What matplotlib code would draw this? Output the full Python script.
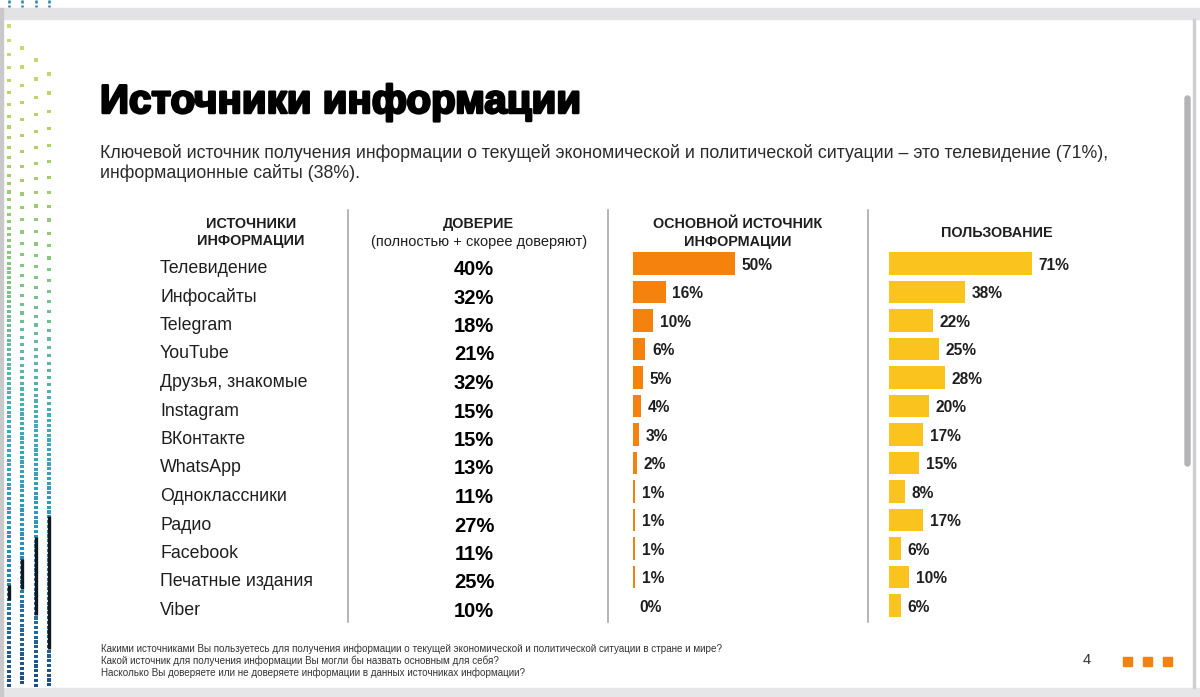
import matplotlib
matplotlib.use("Agg")
import matplotlib.pyplot as plt
import matplotlib.patheffects as pe
import numpy as np
from matplotlib.patches import Rectangle, FancyBboxPatch
from matplotlib.colors import LinearSegmentedColormap

# ---------------- data ----------------
sources = ["Телевидение", "Инфосайты", "Telegram", "YouTube", "Друзья, знакомые",
           "Instagram", "ВКонтакте", "WhatsApp", "Одноклассники", "Радио",
           "Facebook", "Печатные издания", "Viber"]
trust = [40, 32, 18, 21, 32, 15, 15, 13, 11, 27, 11, 25, 10]
main_source = [50, 16, 10, 6, 5, 4, 3, 2, 1, 1, 1, 1, 0]
usage = [71, 38, 22, 25, 28, 20, 17, 15, 8, 17, 6, 10, 6]

title = "Источники информации"
subtitle = ["Ключевой источник получения информации о текущей экономической и политической ситуации – это телевидение (71%),",
            "информационные сайты (38%)."]
footnotes = ["Какими источниками Вы пользуетесь для получения информации о текущей экономической и политической ситуации в стране и мире?",
             "Какой источник для получения информации Вы могли бы назвать основным для себя?",
             "Насколько Вы доверяете или не доверяете информации в данных источниках информации?"]
page_number = "4"

# ---------------- style ----------------
W, H = 1200, 697
FONT = "Liberation Sans"
ORANGE = "#F6820E"
YELLOW = "#FBC31E"
TXT = "#1e1e1e"

plt.rcParams["font.family"] = [FONT, "DejaVu Sans"]

fig = plt.figure(figsize=(W / 100, H / 100), dpi=100)
fig.patch.set_facecolor("white")
bg = fig.add_axes([0, 0, 1, 1])
bg.set_xlim(0, W)
bg.set_ylim(H, 0)
bg.axis("off")


def px_rect(left, top, w, h):
    return [left / W, (H - top - h) / H, w / W, h / H]


# ---------------- frame (screenshot viewer) ----------------
bg.add_patch(Rectangle((0, 8), W, 11, color="#e3e3e6", zorder=1))
bg.add_patch(Rectangle((0, 688), W, 9, color="#e6e6e9", zorder=1))
bg.add_patch(Rectangle((0, 8), 2.5, H, color="#c9c9cc", zorder=1))
bg.add_patch(Rectangle((1193, 19), 2, 669, color="#cfcfd2", zorder=1))
bg.add_patch(FancyBboxPatch((1185, 96), 5, 370, boxstyle="round,pad=0,rounding_size=2.5",
                            color="#b3b3b6", zorder=1))

# decorative dotted columns on the left
cmap = LinearSegmentedColormap.from_list("deco", ["#cfdc6e", "#acd066", "#7fc486", "#43adb8", "#2a8fc0", "#1d4f86"])
col_x = [9, 22, 36, 49]
col_start = [26, 48, 60, 74]
col_gap0 = [14.5, 19, 19, 19]
black_seg = [(585, 600), (559, 589), (537, 615), (516, 649)]
for cx, y0, g0, (b0, b1) in zip(col_x, col_start, col_gap0, black_seg):
    ys = []
    y, g = y0, g0
    while y < 686:
        ys.append(y)
        y += g
        g = max(4.8, g * 0.96)
    ys = np.array(ys)
    cols = cmap(np.clip((ys - 20) / 660, 0, 1))
    bg.scatter(np.full(len(ys), cx), ys, s=5.0, c=cols, marker="s", linewidths=0, zorder=2)
    bg.plot([cx, cx], [b0, b1], color="#111820", lw=2.4, zorder=3, solid_capstyle="butt")
for cx in col_x:
    bg.plot([cx, cx], [0, 7], color="#2a7fb0", lw=1.8, ls=(0, (1.2, 0.8)), zorder=2)

# ---------------- title & subtitle ----------------
bg.text(100, 102, title, fontsize=29, fontweight="bold", color="black", va="center", ha="left",
        path_effects=[pe.withStroke(linewidth=1.8, foreground="black")])
for i, line in enumerate(subtitle):
    bg.text(100, 153 + i * 20, line, fontsize=12.8, color="#2a2a2a", va="center", ha="left")

# ---------------- column headers ----------------
HDR = dict(fontsize=10.4, fontweight="bold", color=TXT, ha="center", va="center")
bg.text(251, 224, "ИСТОЧНИКИ", **HDR)
bg.text(251, 241, "ИНФОРМАЦИИ", **HDR)
bg.text(478, 224, "ДОВЕРИЕ", **HDR)
bg.text(479, 242, "(полностью + скорее доверяют)", fontsize=10.5, color=TXT, ha="center", va="center")
bg.text(738, 224, "ОСНОВНОЙ ИСТОЧНИК", **HDR)
bg.text(738, 242, "ИНФОРМАЦИИ", **HDR)
bg.text(997, 233, "ПОЛЬЗОВАНИЕ", **HDR)

# separators
for sx in [348, 608, 868]:
    bg.plot([sx, sx], [210, 622], color="#a0a0a3", lw=1.1, zorder=2)

# ---------------- rows: labels and trust ----------------
ROW_STEP = 28.5
TEXT0 = 268.5
for i, (name, t) in enumerate(zip(sources, trust)):
    y = TEXT0 + i * ROW_STEP
    bg.text(160, y, name, fontsize=12.8, color=TXT, ha="left", va="center")
    bg.text(474, y + 1, f"{t}%", fontsize=14.5, fontweight="bold", color="black", ha="center", va="center")

# ---------------- bar columns ----------------
BAR0 = 263.5
top = BAR0 - ROW_STEP / 2
height = len(sources) * ROW_STEP


def bar_column(left, width_px, values, color):
    ax = fig.add_axes(px_rect(left, top, width_px, height))
    ax.set_xlim(0, 100)
    ax.set_ylim(len(values) - 0.5, -0.5)
    ax.axis("off")
    idx = np.arange(len(values))
    ax.barh(idx, values, height=0.79, color=color, linewidth=0)
    for i, v in zip(idx, values):
        ax.annotate(f"{v}%", (v, i), xytext=(4.8, -1.2), textcoords="offset points",
                    ha="left", va="center", fontsize=11.2, fontweight="bold", color=TXT)
    return ax


bar_column(633, 204, main_source, ORANGE)
bar_column(889, 201, usage, YELLOW)

# ---------------- footer ----------------
for i, line in enumerate(footnotes):
    bg.text(101, 649 + i * 12, line, fontsize=7.1, color="#333333", ha="left", va="center")
bg.text(1087, 660, page_number, fontsize=10.5, color="#333333", ha="center", va="center")
for sq_x in [1127, 1147, 1167]:
    bg.add_patch(Rectangle((sq_x - 4.5, 656.5), 9, 9, color=ORANGE, zorder=3))

fig.savefig("out.png", dpi=100, facecolor="white")
